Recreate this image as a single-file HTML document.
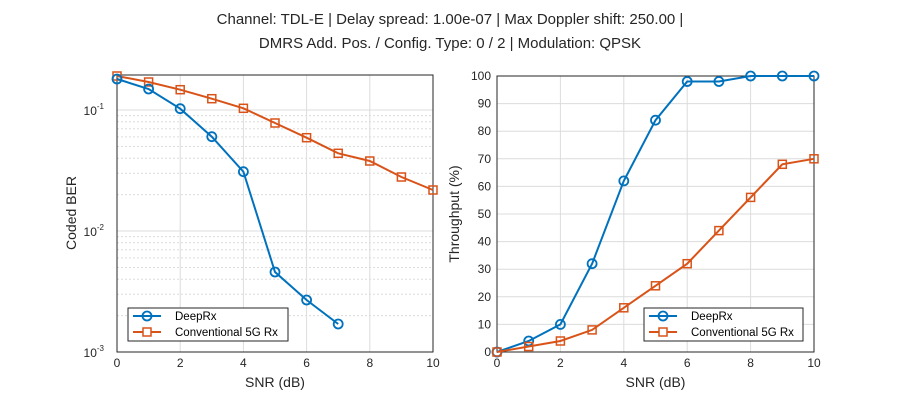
<!DOCTYPE html>
<html><head><meta charset="utf-8"><style>
html,body{margin:0;padding:0;background:#fff;}
svg{display:block;font-family:"Liberation Sans",Arial,sans-serif;}
</style></head><body>
<svg width="900" height="400" viewBox="0 0 900 400" xmlns="http://www.w3.org/2000/svg">
<rect width="900" height="400" fill="#fff"/>
<text x="450" y="24" font-size="15" fill="#262626" text-anchor="middle">Channel: TDL-E | Delay spread: 1.00e-07 | Max Doppler shift: 250.00 |</text>
<text x="450" y="48" font-size="15" fill="#262626" text-anchor="middle">DMRS Add. Pos. / Config. Type: 0 / 2 | Modulation: QPSK</text>

<!-- LEFT AXES -->
<g>
<rect x="117" y="75" width="316" height="277" fill="#fff"/>
<g stroke="#dcdcdc" stroke-width="1" stroke-dasharray="2,2">
<line x1="117" x2="433" y1="315.6" y2="315.6"/><line x1="117" x2="433" y1="294.3" y2="294.3"/><line x1="117" x2="433" y1="279.2" y2="279.2"/><line x1="117" x2="433" y1="267.5" y2="267.5"/><line x1="117" x2="433" y1="257.9" y2="257.9"/><line x1="117" x2="433" y1="249.8" y2="249.8"/><line x1="117" x2="433" y1="242.8" y2="242.8"/><line x1="117" x2="433" y1="236.6" y2="236.6"/>
<line x1="117" x2="433" y1="194.6" y2="194.6"/><line x1="117" x2="433" y1="173.3" y2="173.3"/><line x1="117" x2="433" y1="158.2" y2="158.2"/><line x1="117" x2="433" y1="146.5" y2="146.5"/><line x1="117" x2="433" y1="136.9" y2="136.9"/><line x1="117" x2="433" y1="128.8" y2="128.8"/><line x1="117" x2="433" y1="121.8" y2="121.8"/><line x1="117" x2="433" y1="115.6" y2="115.6"/>
</g>
<g stroke="#dcdcdc" stroke-width="1">
<line x1="117" x2="433" y1="231" y2="231"/><line x1="117" x2="433" y1="110" y2="110"/>
<line x1="180.2" x2="180.2" y1="75" y2="352"/><line x1="243.4" x2="243.4" y1="75" y2="352"/><line x1="306.6" x2="306.6" y1="75" y2="352"/><line x1="369.8" x2="369.8" y1="75" y2="352"/>
</g>
<rect x="117" y="75" width="316" height="277" fill="none" stroke="#262626" stroke-width="1"/>
<polyline fill="none" stroke="#D95319" stroke-width="2" points="117,76 148.6,82 180.2,89.7 211.8,98.7 243.4,108.3 275,123 306.6,137.7 338.2,153.3 369.8,161 401.4,177 433,190"/>
<g fill="none" stroke="#D95319" stroke-width="1.5">
<rect x="113" y="72" width="8" height="8"/><rect x="144.6" y="78" width="8" height="8"/><rect x="176.2" y="85.7" width="8" height="8"/><rect x="207.8" y="94.7" width="8" height="8"/><rect x="239.4" y="104.3" width="8" height="8"/><rect x="271" y="119" width="8" height="8"/><rect x="302.6" y="133.7" width="8" height="8"/><rect x="334.2" y="149.3" width="8" height="8"/><rect x="365.8" y="157" width="8" height="8"/><rect x="397.4" y="173" width="8" height="8"/><rect x="429" y="186" width="8" height="8"/>
</g>
<polyline fill="none" stroke="#0072BD" stroke-width="2" points="117,79 148.6,89 180.2,108.7 211.8,136.7 243.4,171.7 275,272 306.6,300 338.2,324"/>
<g fill="none" stroke="#0072BD" stroke-width="1.8">
<circle cx="117" cy="79" r="4.5"/><circle cx="148.6" cy="89" r="4.5"/><circle cx="180.2" cy="108.7" r="4.5"/><circle cx="211.8" cy="136.7" r="4.5"/><circle cx="243.4" cy="171.7" r="4.5"/><circle cx="275" cy="272" r="4.5"/><circle cx="306.6" cy="300" r="4.5"/><circle cx="338.2" cy="324" r="4.5"/>
</g>
<g font-size="12" fill="#262626" text-anchor="middle">
<text x="117" y="367">0</text><text x="180.2" y="367">2</text><text x="243.4" y="367">4</text><text x="306.6" y="367">6</text><text x="369.8" y="367">8</text><text x="433" y="367">10</text>
</g>
<g font-size="12" fill="#262626" text-anchor="end">
<text x="104" y="115">10<tspan dy="-6" font-size="8">-1</tspan></text>
<text x="104" y="236">10<tspan dy="-6" font-size="8">-2</tspan></text>
<text x="104" y="357">10<tspan dy="-6" font-size="8">-3</tspan></text>
</g>
<text x="275" y="387" font-size="14" fill="#262626" text-anchor="middle">SNR (dB)</text>
<text transform="translate(76,213) rotate(-90)" font-size="14" fill="#262626" text-anchor="middle">Coded BER</text>
<rect x="128" y="308" width="160" height="33" fill="#fff" stroke="#262626" stroke-width="1"/>
<line x1="133" x2="161" y1="316" y2="316" stroke="#0072BD" stroke-width="2"/><circle cx="147" cy="316" r="4.5" fill="none" stroke="#0072BD" stroke-width="1.8"/>
<line x1="133" x2="161" y1="332" y2="332" stroke="#D95319" stroke-width="2"/><rect x="143" y="328" width="8" height="8" fill="#fff" stroke="#D95319" stroke-width="1.5"/>
<text x="175" y="320" font-size="11.5" fill="#000">DeepRx</text>
<text x="175" y="336" font-size="11.5" fill="#000">Conventional 5G Rx</text>
</g>

<!-- RIGHT AXES -->
<g>
<g stroke="#dcdcdc" stroke-width="1">
<line x1="497" x2="814" y1="324.4" y2="324.4"/><line x1="497" x2="814" y1="296.8" y2="296.8"/><line x1="497" x2="814" y1="269.2" y2="269.2"/><line x1="497" x2="814" y1="241.6" y2="241.6"/><line x1="497" x2="814" y1="214" y2="214"/><line x1="497" x2="814" y1="186.4" y2="186.4"/><line x1="497" x2="814" y1="158.8" y2="158.8"/><line x1="497" x2="814" y1="131.2" y2="131.2"/><line x1="497" x2="814" y1="103.6" y2="103.6"/>
<line x1="560.4" x2="560.4" y1="76" y2="352"/><line x1="623.8" x2="623.8" y1="76" y2="352"/><line x1="687.2" x2="687.2" y1="76" y2="352"/><line x1="750.6" x2="750.6" y1="76" y2="352"/>
</g>
<rect x="497" y="76" width="317" height="276" fill="none" stroke="#262626" stroke-width="1"/>
<polyline fill="none" stroke="#0072BD" stroke-width="2" points="497,352 528.7,341 560.4,324.4 592.1,263.7 623.8,180.9 655.5,120.2 687.2,81.5 718.9,81.5 750.6,76 782.3,76 814,76"/>
<g fill="none" stroke="#0072BD" stroke-width="1.8">
<circle cx="497" cy="352" r="4.5"/><circle cx="528.7" cy="341" r="4.5"/><circle cx="560.4" cy="324.4" r="4.5"/><circle cx="592.1" cy="263.7" r="4.5"/><circle cx="623.8" cy="180.9" r="4.5"/><circle cx="655.5" cy="120.2" r="4.5"/><circle cx="687.2" cy="81.5" r="4.5"/><circle cx="718.9" cy="81.5" r="4.5"/><circle cx="750.6" cy="76" r="4.5"/><circle cx="782.3" cy="76" r="4.5"/><circle cx="814" cy="76" r="4.5"/>
</g>
<polyline fill="none" stroke="#D95319" stroke-width="2" points="497,352 528.7,346.5 560.4,341 592.1,329.9 623.8,307.8 655.5,285.8 687.2,263.7 718.9,230.6 750.6,197.4 782.3,164.3 814,158.8"/>
<g fill="none" stroke="#D95319" stroke-width="1.5">
<rect x="493" y="348" width="8" height="8"/><rect x="524.7" y="342.5" width="8" height="8"/><rect x="556.4" y="337" width="8" height="8"/><rect x="588.1" y="325.9" width="8" height="8"/><rect x="619.8" y="303.8" width="8" height="8"/><rect x="651.5" y="281.8" width="8" height="8"/><rect x="683.2" y="259.7" width="8" height="8"/><rect x="714.9" y="226.6" width="8" height="8"/><rect x="746.6" y="193.4" width="8" height="8"/><rect x="778.3" y="160.3" width="8" height="8"/><rect x="810" y="154.8" width="8" height="8"/>
</g>
<g font-size="12" fill="#262626" text-anchor="middle">
<text x="497" y="367">0</text><text x="560.4" y="367">2</text><text x="623.8" y="367">4</text><text x="687.2" y="367">6</text><text x="750.6" y="367">8</text><text x="814" y="367">10</text>
</g>
<g font-size="12" fill="#262626" text-anchor="end">
<text x="491" y="356">0</text><text x="491" y="328.4">10</text><text x="491" y="300.8">20</text><text x="491" y="273.2">30</text><text x="491" y="245.6">40</text><text x="491" y="218">50</text><text x="491" y="190.4">60</text><text x="491" y="162.8">70</text><text x="491" y="135.2">80</text><text x="491" y="107.6">90</text><text x="491" y="80">100</text>
</g>
<text x="655.5" y="387" font-size="14" fill="#262626" text-anchor="middle">SNR (dB)</text>
<text transform="translate(459,214) rotate(-90)" font-size="14" fill="#262626" text-anchor="middle">Throughput (%)</text>
<rect x="644" y="308" width="159" height="33" fill="#fff" stroke="#262626" stroke-width="1"/>
<line x1="649" x2="677" y1="316" y2="316" stroke="#0072BD" stroke-width="2"/><circle cx="663" cy="316" r="4.5" fill="none" stroke="#0072BD" stroke-width="1.8"/>
<line x1="649" x2="677" y1="332" y2="332" stroke="#D95319" stroke-width="2"/><rect x="659" y="328" width="8" height="8" fill="#fff" stroke="#D95319" stroke-width="1.5"/>
<text x="691" y="320" font-size="11.5" fill="#000">DeepRx</text>
<text x="691" y="336" font-size="11.5" fill="#000">Conventional 5G Rx</text>
</g>
</svg>
</body></html>
